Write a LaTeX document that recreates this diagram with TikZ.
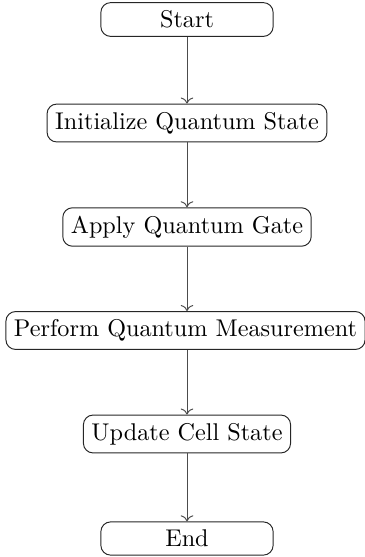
\documentclass[tikz,border=0pt]{standalone}
\usetikzlibrary{arrows.meta}
\begin{document}
\begin{tikzpicture}[x=0.413pt,y=-0.413pt,
  stepbox/.style={draw=black!85, rounded corners=4pt, minimum width=2.5cm, align=center},
  conn/.style={draw=black!70, ->}]
\useasboundingbox (0,0) rectangle (364,557);
\node[stepbox] (start) at (187,19.5) {Start};
\node[stepbox] (init) at (187,123) {Initialize Quantum State};
\node[stepbox] (gate) at (187,227) {Apply Quantum Gate};
\node[stepbox] (meas) at (185.5,330.5) {Perform Quantum Measurement};
\node[stepbox] (upd) at (187,434) {Update Cell State};
\node[stepbox] (end) at (187,538.5) {End};
\draw[conn] (start) -- (init);
\draw[conn] (init) -- (gate);
\draw[conn] (gate.south) -- (gate.south |- meas.north);
\draw[conn] (upd.north |- meas.south) -- (upd.north);
\draw[conn] (upd) -- (end);
\end{tikzpicture}
\end{document}
